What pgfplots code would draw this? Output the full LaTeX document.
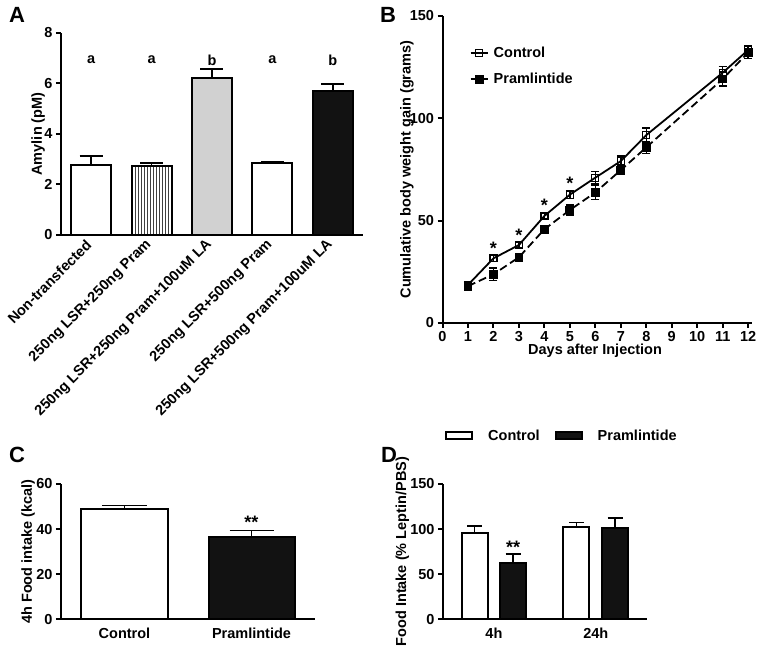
\documentclass[border=0pt]{standalone}
\usepackage{fontspec}
\setmainfont{Liberation Sans}
\usepackage{pgfplots}
\pgfplotsset{compat=1.18}
\usetikzlibrary{patterns}

\newcommand{\lbl}{\fontsize{14.5}{16}\selectfont\bfseries}
\newcommand{\tkl}{\fontsize{14.5}{16}\selectfont\bfseries}
\newcommand{\str}{\fontsize{18}{20}\selectfont\bfseries}

\pgfplotsset{
  panel/.style={
    scale only axis, axis lines*=left,
    axis line style={line width=2pt, black},
    tick align=outside, major tick length=5pt,
    every tick/.append style={black, line width=2pt},
    tick label style={font=\tkl},
    label style={font=\lbl},
    /pgf/number format/assume math mode=true,
    clip=false, anchor=south west,
  },
  ebar/.style={error bars/y dir=plus, error bars/y explicit,
    error bars/error mark options={rotate=90, mark size=#1, line width=1.6pt, black},
    error bars/error bar style={line width=1.6pt, black}},
}

\begin{document}
\begin{tikzpicture}
\useasboundingbox (0,0) rectangle (760pt,647pt);

% ---------------- Panel A ----------------
\begin{axis}[panel, at={(61pt,412pt)}, width=302pt, height=202pt,
  xmin=-0.5, xmax=4.5, ymin=0, ymax=8, ytick={0,2,4,6,8},
  xtick={0,1,2,3,4},
  xticklabels={Non-transfected, 250ng LSR+250ng Pram, 250ng LSR+250ng Pram+100uM LA, 250ng LSR+500ng Pram, 250ng LSR+500ng Pram+100uM LA},
  xticklabel style={rotate=45, anchor=east, font=\tkl},
  xtick style={draw=none},
  ylabel={Amylin (pM)},
  ylabel style={at={(axis description cs:-0.076,0.5)}, anchor=center},
  ybar, bar width=40pt]
\addplot[bar shift=0pt, fill=white, draw=black, line width=2pt, ebar=11.5pt] coordinates {(0,2.77) +- (0,0.37)};
\addplot[bar shift=0pt, pattern=vertical lines, pattern color=black!75, draw=black, line width=2pt, ebar=11.5pt] coordinates {(1,2.73) +- (0,0.13)};
\addplot[bar shift=0pt, fill=black!18, draw=black, line width=2pt, ebar=11.5pt] coordinates {(2,6.23) +- (0,0.34)};
\addplot[bar shift=0pt, fill=white, draw=black, line width=2pt, ebar=11.5pt] coordinates {(3,2.85) +- (0,0.05)};
\addplot[bar shift=0pt, fill=black!93, draw=black, line width=2pt, ebar=11.5pt] coordinates {(4,5.71) +- (0,0.26)};
\node[font=\lbl] at (axis cs:0,6.93) {a};
\node[font=\lbl] at (axis cs:1,6.93) {a};
\node[font=\lbl] at (axis cs:2,6.93) {b};
\node[font=\lbl] at (axis cs:3,6.93) {a};
\node[font=\lbl] at (axis cs:4,6.93) {b};
\end{axis}

% ---------------- Panel B ----------------
\begin{axis}[panel, at={(442.5pt,324pt)}, width=309.5pt, height=307pt,
  xmin=0, xmax=12.15, ymin=0, ymax=150,
  xtick={0,1,...,12}, ytick={0,50,100,150},
  xlabel={Days after Injection},
  xlabel style={at={(axis description cs:0.493,-0.09)}, anchor=center},
  ylabel={Cumulative body weight gain (grams)},
  ylabel style={at={(axis description cs:-0.115,0.5)}, anchor=center},
  legend style={at={(axis description cs:0.078,0.912)}, anchor=north west,
    draw=none, fill=none, font=\lbl, row sep=10pt,
    /tikz/every odd column/.append style={column sep=3pt}},
  legend cell align=left]
\addplot[black, line width=1.8pt, mark=square, mark size=3.5pt,
  mark options={fill=white, solid, line width=1.3pt},
  error bars/y dir=both, error bars/y explicit,
  error bars/error mark options={rotate=90, mark size=4pt, line width=1.4pt},
  error bars/error bar style={line width=1.4pt, solid}]
table[x=d, y=v, y error=e] {
d v e
1 18.6 1.5
2 31.6 1.5
3 38.1 1.5
4 52.3 1.5
5 62.7 2.0
6 71.0 3.0
7 79.1 2.5
8 91.8 3.5
11 122.3 3.0
12 133.4 2.0
};
\addplot[black, line width=1.8pt, dash pattern=on 8pt off 4pt, mark=square*, mark size=3.5pt,
  mark options={fill=black, solid},
  error bars/y dir=both, error bars/y explicit,
  error bars/error mark options={rotate=90, mark size=4pt, line width=1.4pt, solid},
  error bars/error bar style={line width=1.4pt, solid}]
table[x=d, y=v, y error=e] {
d v e
1 18.0 1.5
2 23.8 3.0
3 32.1 1.0
4 45.8 1.0
5 55.2 2.5
6 63.8 3.5
7 74.7 2.0
8 85.8 3.0
11 119.2 3.5
12 132.2 3.0
};
\legend{Control, Pramlintide}
\node[font=\str] at (axis cs:2,36.4) {*};
\node[font=\str] at (axis cs:3,42.8) {*};
\node[font=\str] at (axis cs:4,57.6) {*};
\node[font=\str] at (axis cs:5,68.1) {*};
\end{axis}

% ---------------- Panel C ----------------
\begin{axis}[panel, at={(61pt,27.7pt)}, width=254pt, height=135.3pt,
  xmin=-0.5, xmax=1.5, ymin=0, ymax=60, ytick={0,20,40,60},
  xtick={0,1}, xticklabels={Control, Pramlintide},
  xtick style={draw=none},
  ylabel={4h Food intake (kcal)},
  ylabel style={at={(axis description cs:-0.129,0.5)}, anchor=center},
  ybar, bar width=86pt]
\addplot[bar shift=0pt, fill=white, draw=black, line width=2pt, ebar=22pt] coordinates {(0,48.9) +- (0,1.5)};
\addplot[bar shift=0pt, fill=black!93, draw=black, line width=2pt, ebar=22pt] coordinates {(1,36.3) +- (0,3.0)};
\node[font=\str] at (axis cs:1,43.0) {**};
\end{axis}

% ---------------- Panel D ----------------
\begin{axis}[panel, at={(443pt,27.7pt)}, width=203.7pt, height=135.3pt,
  xmin=-0.5, xmax=1.5, ymin=0, ymax=150, ytick={0,50,100,150},
  xtick={0,1}, xticklabels={4h, 24h},
  xtick style={draw=none},
  ylabel={Food Intake (\% Leptin/PBS)},
  ylabel style={at={(axis description cs:-0.199,0.5)}, anchor=center},
  ybar, bar width=26pt,
  legend style={at={(axis description cs:-0.005,1.357)}, anchor=west,
    draw=none, fill=none, font=\lbl, legend columns=2,
    /tikz/every odd column/.append style={column sep=13pt},
    /tikz/every even column/.append style={column sep=13pt}}]
\addplot[bar shift=-19.3pt, fill=white, draw=black, line width=2pt,
  legend image code/.code={\draw[fill=white, draw=black, line width=2pt] (0pt,-3.5pt) rectangle (26pt,3.5pt);}, ebar=7.5pt]
  coordinates {(0,95.3) +- (0,8.1) (1,102) +- (0,5.5)};
\addplot[bar shift=19.3pt, fill=black!93, draw=black, line width=2pt,
  legend image code/.code={\draw[fill=black!93, draw=black, line width=2pt] (0pt,-3.5pt) rectangle (26pt,3.5pt);}, ebar=7.5pt]
  coordinates {(0,62.7) +- (0,9.7) (1,101.5) +- (0,10.5)};
\legend{Control, Pramlintide}
\node[font=\str, xshift=19.3pt] at (axis cs:0,80) {**};
\end{axis}

% panel letters
\node[font=\fontsize{22}{24}\selectfont\bfseries] at (17pt,632pt) {A};
\node[font=\fontsize{22}{24}\selectfont\bfseries] at (388pt,632pt) {B};
\node[font=\fontsize{22}{24}\selectfont\bfseries] at (17pt,192pt) {C};
\node[font=\fontsize{22}{24}\selectfont\bfseries] at (389pt,192pt) {D};
\end{tikzpicture}
\end{document}
